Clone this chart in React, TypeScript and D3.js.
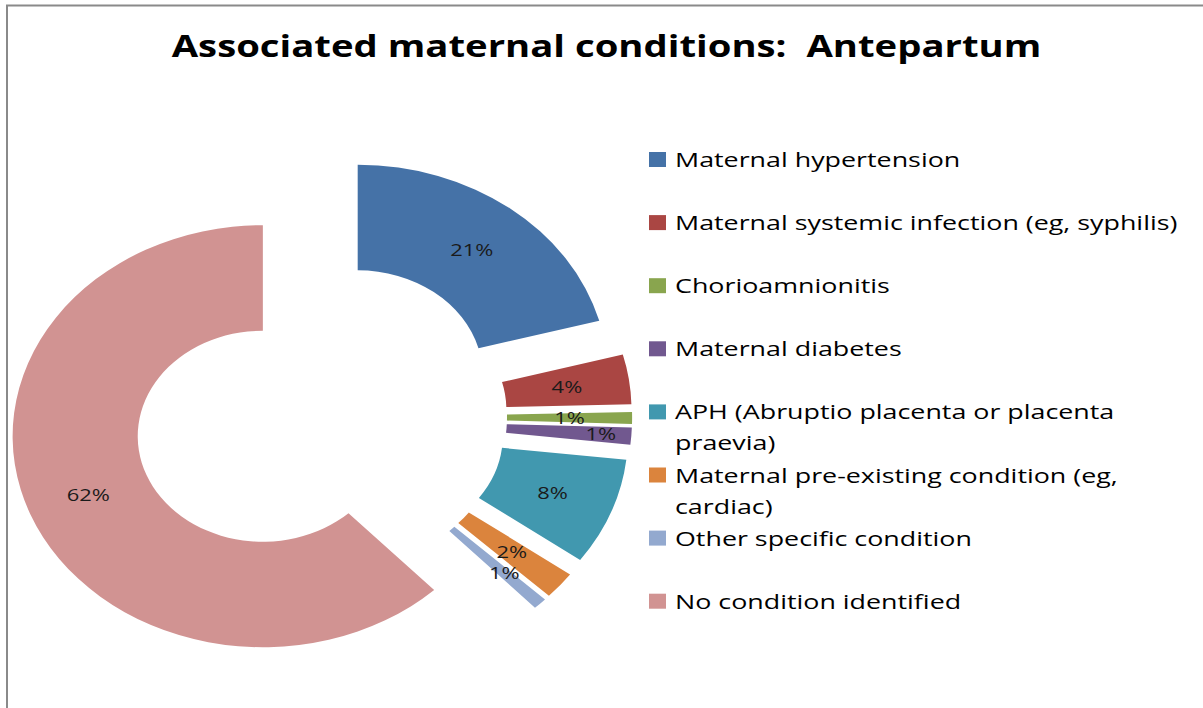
import React, { useMemo } from "react";
import * as d3 from "d3";

// ---- data ----
const categories: string[] = [
  "Maternal hypertension",
  "Maternal systemic infection (eg, syphilis)",
  "Chorioamnionitis",
  "Maternal diabetes",
  "APH (Abruptio placenta or placenta praevia)",
  "Maternal pre-existing condition (eg, cardiac)",
  "Other specific condition",
  "No condition identified",
];
const values: number[] = [20.8, 3.8, 0.9, 1.3, 8.2, 2.1, 0.9, 62.0];
const colors: string[] = [
  "#4572A7",
  "#AA4643",
  "#89A54E",
  "#71588F",
  "#4198AF",
  "#DB843D",
  "#93A9CF",
  "#D19392",
];
const title = "Associated maternal conditions:  Antepartum";

// ---- layout ----
const W = 1203;
const H = 708;
const FONT = "'Open Sans', 'DejaVu Sans', sans-serif";
const TS = 1.29; // horizontal text stretch
const TITLE_TS = 1.235;
const SX = 1.186; // horizontal stretch of the donut
const CX = 320.2;
const CY = 417.1;
const R_OUT = 211;
const R_IN = 105.5;
const EXPLODE = 52;
const LEGEND_X = 649;
const LEGEND_TEXT_X = 675;
const LEGEND_Y0 = 167;
const LEGEND_STEP = 63.1;
const LEGEND_LINE = 31;
const LEGEND_FS = 20.8;
const LEGEND_MAXW = 525;
const LABEL_FS = 17;

let ctx: CanvasRenderingContext2D | null = null;
function measure(text: string, font: string): number {
  if (!ctx) {
    const c = document.createElement("canvas");
    ctx = c.getContext("2d");
  }
  if (!ctx) return text.length * 10;
  ctx.font = font;
  return ctx.measureText(text).width;
}

function wrap(text: string, maxW: number): string[] {
  const words = text.split(" ");
  const lines: string[] = [];
  let cur = "";
  for (const w of words) {
    const test = cur ? cur + " " + w : w;
    if (cur && measure(test, `${LEGEND_FS}px ${FONT}`) * TS > maxW) {
      lines.push(cur);
      cur = w;
    } else cur = test;
  }
  if (cur) lines.push(cur);
  return lines;
}

export default function App() {
  const total = d3.sum(values);
  const pie = d3
    .pie<number>()
    .sort(null)
    .value((d) => d)
    .startAngle(0)
    .endAngle(2 * Math.PI);
  const arcs = pie(values);
  const arcGen = d3.arc<d3.PieArcDatum<number>>().innerRadius(R_IN).outerRadius(R_OUT);

  const labels = useMemo(() => {
    const placed: { x: number; y: number; w: number; h: number; text: string }[] = [];
    arcs.forEach((a) => {
      const mid = (a.startAngle + a.endAngle) / 2;
      const text = `${Math.round((a.value / total) * 100)}%`;
      const w = measure(text, `${LABEL_FS}px ${FONT}`) * TS;
      const h = 21;
      let rm = (R_OUT + R_IN) / 2;
      let x = 0,
        y = 0;
      for (let k = 0; k < 80; k++) {
        x = CX + SX * (EXPLODE + rm) * Math.sin(mid);
        y = CY - (EXPLODE + rm) * Math.cos(mid);
        const hit = placed.some(
          (p) => Math.abs(p.x - x) < (p.w + w) / 2 && Math.abs(p.y - y) < (p.h + h) / 2
        );
        if (!hit) break;
        rm += 1;
      }
      placed.push({ x, y, w, h, text });
    });
    return placed;
  }, []);

  const legendLines = useMemo(() => categories.map((c) => wrap(c, LEGEND_MAXW)), []);

  return (
    <svg
      width={W}
      height={H}
      style={{ position: "absolute", left: 0, top: 0, background: "#fff" }}
      fontFamily={FONT}
    >
      <rect x={0} y={0} width={W} height={H} fill="#fff" />
      <rect x={7} y={5.5} width={W + 50} height={H + 50} fill="none" stroke="#8a8a8a" strokeWidth={2} />

      <text
        transform={`translate(${606.5},57) scale(${TITLE_TS},1)`}
        textAnchor="middle"
        fontSize={31}
        fontWeight={700}
        fill="#000"
        style={{ whiteSpace: "pre" }}
        xmlSpace="preserve"
      >
        {title}
      </text>

      <g>
        {arcs.map((a, i) => {
          const mid = (a.startAngle + a.endAngle) / 2;
          const ox = EXPLODE * Math.sin(mid);
          const oy = -EXPLODE * Math.cos(mid);
          return (
            <path
              key={i}
              d={arcGen(a) || ""}
              fill={colors[i]}
              transform={`translate(${CX},${CY}) scale(${SX},1) translate(${ox},${oy})`}
            />
          );
        })}
      </g>

      <g>
        {labels.map((l, i) => (
          <text
            key={i}
            transform={`translate(${l.x},${l.y}) scale(${TS},1)`}
            textAnchor="middle"
            dy="0.36em"
            fontSize={LABEL_FS}
            fill="#1a1a1a"
          >
            {l.text}
          </text>
        ))}
      </g>

      <g>
        {categories.map((c, i) => {
          const by = LEGEND_Y0 + i * LEGEND_STEP;
          return (
            <g key={i}>
              <rect x={LEGEND_X} y={by - 15} width={17} height={15} fill={colors[i]} />
              {legendLines[i].map((line, j) => (
                <text
                  key={j}
                  transform={`translate(${LEGEND_TEXT_X},${by + j * LEGEND_LINE}) scale(${TS},1)`}
                  fontSize={LEGEND_FS}
                  fill="#000"
                >
                  {line}
                </text>
              ))}
            </g>
          );
        })}
      </g>
    </svg>
  );
}
